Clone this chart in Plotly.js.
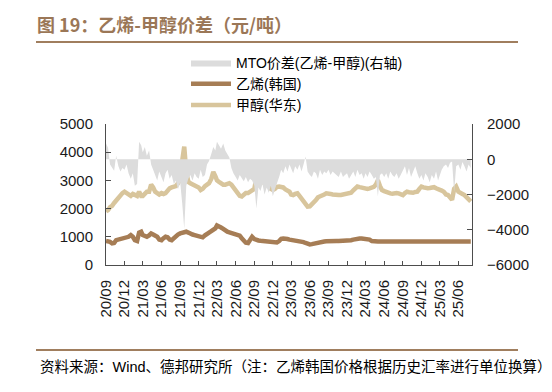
<!DOCTYPE html>
<html>
<head>
<meta charset="utf-8">
<script src="https://cdn.plot.ly/plotly-3.0.1.min.js"></script>
<style>html,body{margin:0;padding:0;background:#fff;}#chart{width:552px;height:392px;}</style>
</head>
<body>
<div id="chart"></div>
<script>
// Sample dates: 1st, 11th, 21st of each month, Sep 2020 .. Aug 2025
const sampleDays = [1, 11, 21];
const dates = [];
for (let m = 0; m < 60; m++) {
  const y = 2020 + Math.floor((8 + m) / 12);
  const mo = (8 + m) % 12 + 1;
  for (const d of sampleDays) {
    if (dates.length < 178) dates.push(y + '-' + String(mo).padStart(2, '0') + '-' + String(d).padStart(2, '0'));
  }
}

const tickVals = ['2020-09-01','2020-12-01','2021-03-01','2021-06-01','2021-09-01','2021-12-01','2022-03-01','2022-06-01','2022-09-01','2022-12-01','2023-03-01','2023-06-01','2023-09-01','2023-12-01','2024-03-01','2024-06-01','2024-09-01','2024-12-01','2025-03-01','2025-06-01'];
const tickText = ['20/09','20/12','21/03','21/06','21/09','21/12','22/03','22/06','22/09','22/12','23/03','23/06','23/09','23/12','24/03','24/06','24/09','24/12','25/03','25/06'];

// 甲醇(华东), 元/吨 (left axis)
const methanol = [
 1900,1950,2050, 2100,2200,2300, 2350,2450,2550, 2600,2550,2500,
 2450,2520,2480, 2450,2600,2450, 2450,2550,2600, 2600,2850,2750,
 2600,2550,2500, 2550,2520,2550, 2650,2720,2750, 2780,2800,2900,
 3050,3700,4200, 3300,2950,2900, 2850,2800,2800, 2750,2660,2700,
 2800,2850,2900, 3050,3300,3150, 3000,2950,2900, 2850,2850,2870,
 2900,2850,2750, 2650,2550,2450, 2430,2500,2550, 2550,2600,2650,
 2700,3100,3250, 3000,2950,2900, 2880,2800,2700, 2660,2700,2770,
 2780,2770,2750, 2680,2650,2600, 2500,2480,2520, 2540,2450,2350,
 2300,2200,2070, 2080,2150,2190, 2300,2400,2420, 2450,2500,2540,
 2540,2520,2500, 2480,2490,2480, 2480,2490,2520, 2550,2540,2560,
 2650,2720,2780, 2760,2740,2720, 2730,2700,2720, 2750,2770,2850,
 3010,2800,2660, 2620,2580,2550, 2540,2530,2550, 2550,2540,2500,
 2480,2550,2600, 2580,2550,2560, 2590,2600,2700, 2780,2750,2720,
 2720,2730,2750, 2760,2720,2700, 2660,2640,2600, 2500,2480,2400,
 2310,2700,2780, 2600,2540,2520, 2480,2420,2350, 2250
];

// 乙烯(韩国) (left axis)
const ethylene = [
 850,840,820, 770,780,880, 900,930,950, 950,960,1000,
 1060,1000,880, 850,1150,1180, 1060,1020,1000, 1050,1120,1080,
 1060,1000,900, 880,950,1000, 980,900,880, 950,1050,1080,
 1120,1130,1150, 1180,1150,1100, 1080,1060,1050, 1020,1000,980,
 1050,1120,1150, 1200,1250,1300, 1400,1380,1330, 1280,1220,1180,
 1160,1140,1120, 1090,1060,1040, 950,880,790, 780,900,1000,
 920,880,870, 860,850,850, 850,850,840, 820,800,800,
 850,930,940, 940,920,900, 890,880,880, 870,860,830,
 810,780,750, 730,740,760, 780,800,820, 830,830,840,
 850,850,850, 850,850,850, 850,850,850, 850,860,880,
 900,920,930, 940,940,930, 930,920,900, 850,830,830,
 830,830,830, 830,830,830, 830,830,830, 830,830,830,
 830,830,830, 830,830,830, 830,830,830, 830,830,830,
 830,830,830, 830,830,830, 830,830,830, 830,830,830,
 830,830,830, 830,830,830, 830,830,830, 830
];

// MTO价差(乙烯-甲醇) (right axis)
const mtoSpread = [
 900,650,-300, -500,-650,200, -400,-700,-500, -600,-300,-800,
 -1100,-800,-1500, -1400,1000,800, 400,700,200, 500,-300,-600,
 -900,-1200,-700, -1000,-1300,-800, -600,-1100,-900, -1400,-1200,-1700,
 -1300,-2500,-3950, -1500,-1100,-900, -1200,-800,-1000, -1100,-600,-1000,
 -900,-300,-100, 300,700,500, 1000,800,600, 900,500,300,
 100,-500,-800, -1000,-1200,-900, -1100,-1250,-1000, -1300,-1100,-1200,
 -1500,-2800,-1600, -1800,-1400,-2000, -1600,-1900,-1500, -2100,-1700,-1400,
 -1000,-600,-800, -400,-700,-300, -500,-800,-400, -600,-300,-700,
 -300,150,-700, -900,-1000,-700, -800,-1100,-600, -900,-700,-800,
 -600,-900,-700, -800,-900,-1000, -700,-1000,-900, -800,-1100,-900,
 -700,-1000,-600, -900,-800,-1100, -800,-1000,-700, -900,-1100,-1000,
 -2100,-900,-800, -1000,-800,-1100, -700,-900,-1000, -800,-1100,-900,
 -600,-400,-900, -500,-1000,-700, -400,-800,-1100, -900,-1200,-800,
 -1000,-1300,-900, -1100,-700,-1200, -900,-600,-400, -300,-500,-200,
 -130,-1840,-400, -300,-600,-150, -400,-700,-300, -500
];

const seriesNames = ['MTO价差(乙烯-甲醇)(右轴)', '乙烯(韩国)', '甲醇(华东)'];
const FONT = 'Liberation Sans, Arial, Noto Sans CJK SC, sans-serif';

const traces = [
  {x: dates, y: mtoSpread, name: seriesNames[0], yaxis: 'y2', type: 'scatter', mode: 'lines',
   fill: 'tozeroy', fillcolor: '#DCDCDC', line: {width: 0, color: '#DCDCDC'}},
  {x: dates, y: ethylene, name: seriesNames[1], type: 'scatter', mode: 'lines',
   line: {width: 4.5, color: '#A67D55'}},
  {x: dates, y: methanol, name: seriesNames[2], type: 'scatter', mode: 'lines',
   line: {width: 4.5, color: '#D8C59C'}}
];

const axisCommon = {
  showgrid: false, zeroline: false, showline: true, linecolor: '#4d4d4d', linewidth: 1,
  ticks: 'inside', tickcolor: '#4d4d4d', tickfont: {family: FONT, size: 15, color: '#1a1a1a'}
};

const layout = {
  width: 552, height: 392,
  margin: {l: 106, r: 80, t: 124, b: 127, pad: 0},
  paper_bgcolor: '#fff', plot_bgcolor: '#fff',
  showlegend: true,
  title: {text: '图 19：乙烯-甲醇价差（元/吨）', x: 37/552, xanchor: 'left', xref: 'container',
          y: 1 - 26/392, yanchor: 'middle', yref: 'container',
          font: {family: 'Noto Sans CJK SC, sans-serif', size: 18, color: '#9B7757', weight: 'bold'}},
  xaxis: Object.assign({}, axisCommon, {
    type: 'date', range: ['2020-09-01', '2025-08-07'],
    tickmode: 'array', tickvals: tickVals, ticktext: tickText, tickangle: -90, ticklen: 4,
    ticklabelstandoff: 8
  }),
  yaxis: Object.assign({}, axisCommon, {
    range: [0, 5000], tickmode: 'linear', tick0: 0, dtick: 1000, ticklen: 5, ticklabelstandoff: 9
  }),
  yaxis2: Object.assign({}, axisCommon, {
    overlaying: 'y', side: 'right', range: [-6000, 2000], tickmode: 'linear', tick0: -6000, dtick: 2000,
    ticklen: 5, ticklabelstandoff: 11
  }),
  legend: {x: (186-106)/366, xanchor: 'left', y: (265-47)/141, yanchor: 'top', orientation: 'v',
    bgcolor: 'rgba(0,0,0,0)', font: {family: FONT, size: 14, color: '#000'}, itemwidth: 40, tracegroupgap: 0},
  shapes: [
    {type: 'line', xref: 'paper', yref: 'paper', x0: (36-106)/366, x1: (518-106)/366, y0: (265-42)/141, y1: (265-42)/141,
     line: {color: '#A07E5E', width: 2}},
    {type: 'line', xref: 'paper', yref: 'paper', x0: (36-106)/366, x1: (518-106)/366, y0: (265-350)/141, y1: (265-350)/141,
     line: {color: '#A07E5E', width: 2}}
  ],
  annotations: [
    {text: '资料来源：Wind、德邦研究所（注：乙烯韩国价格根据历史汇率进行单位换算）', xref: 'paper', yref: 'paper',
     x: (38-106)/366, xanchor: 'left', y: (265-367)/141, yanchor: 'middle', showarrow: false,
     font: {family: FONT, size: 14.5, color: '#000'}}
  ]
};

Plotly.newPlot('chart', traces, layout, {displayModeBar: false, staticPlot: true});
</script>
</body>
</html>
